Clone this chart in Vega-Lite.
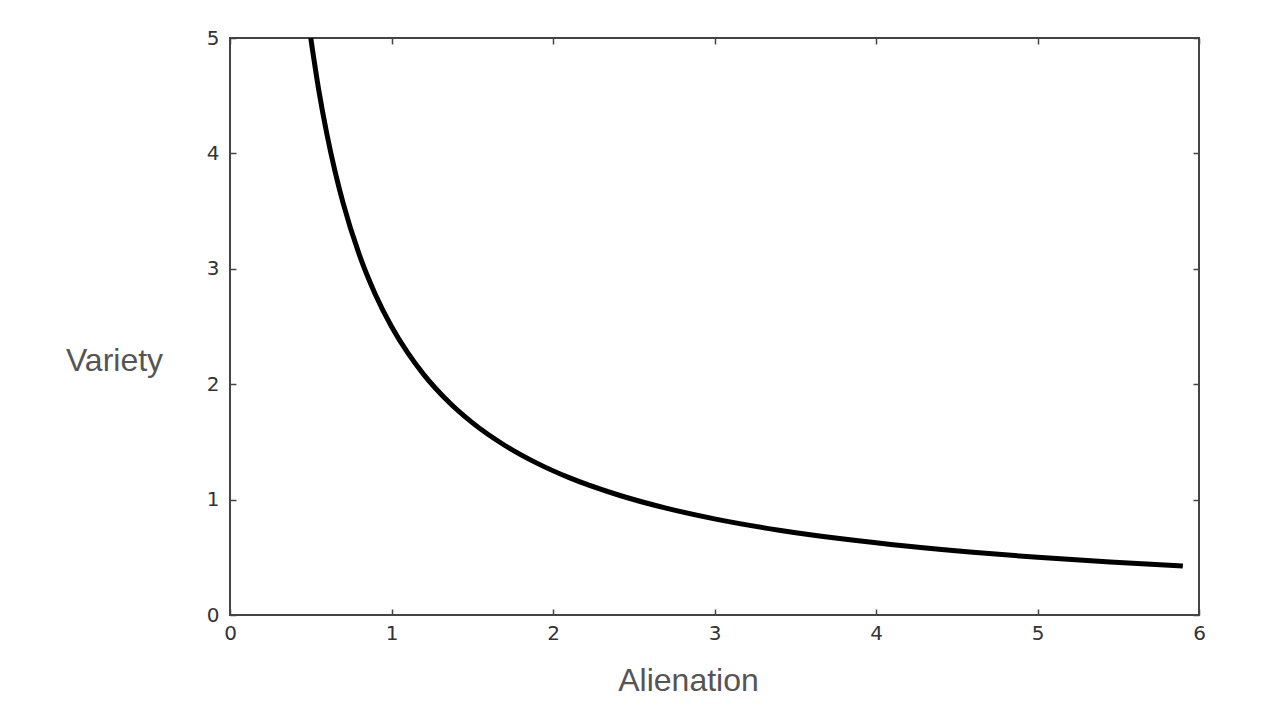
{
  "$schema": "https://vega.github.io/schema/vega-lite/v6.json",
  "width": 969,
  "height": 577,
  "autosize": "none",
  "padding": {"left": 230, "top": 38, "right": 81, "bottom": 105},
  "background": "white",
  "config": {
    "view": {"stroke": "#444444", "strokeWidth": 2},
    "axis": {"grid": false, "domain": false, "labelFlush": false, "labelOverlap": false}
  },
  "data": {
    "values": [
      {"alienation": 0.5, "variety": 5.0},
      {"alienation": 0.55, "variety": 4.545},
      {"alienation": 0.6, "variety": 4.167},
      {"alienation": 0.65, "variety": 3.846},
      {"alienation": 0.7, "variety": 3.571},
      {"alienation": 0.8, "variety": 3.125},
      {"alienation": 0.9, "variety": 2.778},
      {"alienation": 1.0, "variety": 2.5},
      {"alienation": 1.1, "variety": 2.273},
      {"alienation": 1.2, "variety": 2.083},
      {"alienation": 1.35, "variety": 1.852},
      {"alienation": 1.5, "variety": 1.667},
      {"alienation": 1.7, "variety": 1.471},
      {"alienation": 1.9, "variety": 1.316},
      {"alienation": 2.1, "variety": 1.19},
      {"alienation": 2.4, "variety": 1.042},
      {"alienation": 2.7, "variety": 0.926},
      {"alienation": 3.0, "variety": 0.833},
      {"alienation": 3.4, "variety": 0.735},
      {"alienation": 3.8, "variety": 0.658},
      {"alienation": 4.2, "variety": 0.595},
      {"alienation": 4.6, "variety": 0.543},
      {"alienation": 5.0, "variety": 0.5},
      {"alienation": 5.45, "variety": 0.459},
      {"alienation": 5.9, "variety": 0.424}
    ]
  },
  "layer": [
    {
      "mark": {"type": "line", "color": "black", "strokeWidth": 5, "interpolate": "monotone", "clip": true},
      "encoding": {
        "x": {
          "field": "alienation", "type": "quantitative",
          "scale": {"domain": [0, 6], "nice": false, "zero": false},
          "axis": {
            "orient": "bottom", "values": [0, 1, 2, 3, 4, 5, 6], "format": "d",
            "tickSize": -6, "tickColor": "#444444", "tickWidth": 1.5,
            "labelPadding": 14, "labelFont": "DejaVu Sans", "labelFontSize": 20, "labelColor": "#333333",
            "title": "Alienation", "titleFont": "Liberation Sans", "titleFontSize": 32, "titleFontWeight": "normal",
            "titleColor": "#555555", "titleX": 458, "titleY": 65, "titleAlign": "center", "titleBaseline": "middle"
          }
        },
        "y": {
          "field": "variety", "type": "quantitative",
          "scale": {"domain": [0, 5], "nice": false, "zero": false},
          "axis": {
            "orient": "left", "values": [0, 1, 2, 3, 4, 5], "format": "d",
            "tickSize": -6, "tickColor": "#444444", "tickWidth": 1.5,
            "labelPadding": 17, "labelFont": "DejaVu Sans", "labelFontSize": 20, "labelColor": "#333333",
            "title": "Variety", "titleFont": "Liberation Sans", "titleFontSize": 32, "titleFontWeight": "normal",
            "titleColor": "#555555", "titleAngle": 0, "titleX": -116, "titleY": 322, "titleAlign": "center", "titleBaseline": "middle"
          }
        }
      }
    },
    {
      "mark": {"type": "point", "opacity": 0},
      "encoding": {
        "x": {
          "field": "alienation", "type": "quantitative",
          "scale": {"domain": [0, 6], "nice": false, "zero": false},
          "axis": {"orient": "top", "values": [0, 1, 2, 3, 4, 5, 6], "labels": false, "title": null,
            "tickSize": -6, "tickColor": "#444444", "tickWidth": 1.5}
        },
        "y": {
          "field": "variety", "type": "quantitative",
          "scale": {"domain": [0, 5], "nice": false, "zero": false},
          "axis": {"orient": "right", "values": [0, 1, 2, 3, 4, 5], "labels": false, "title": null,
            "tickSize": -6, "tickColor": "#444444", "tickWidth": 1.5}
        }
      }
    }
  ],
  "resolve": {"axis": {"x": "independent", "y": "independent"}}
}
